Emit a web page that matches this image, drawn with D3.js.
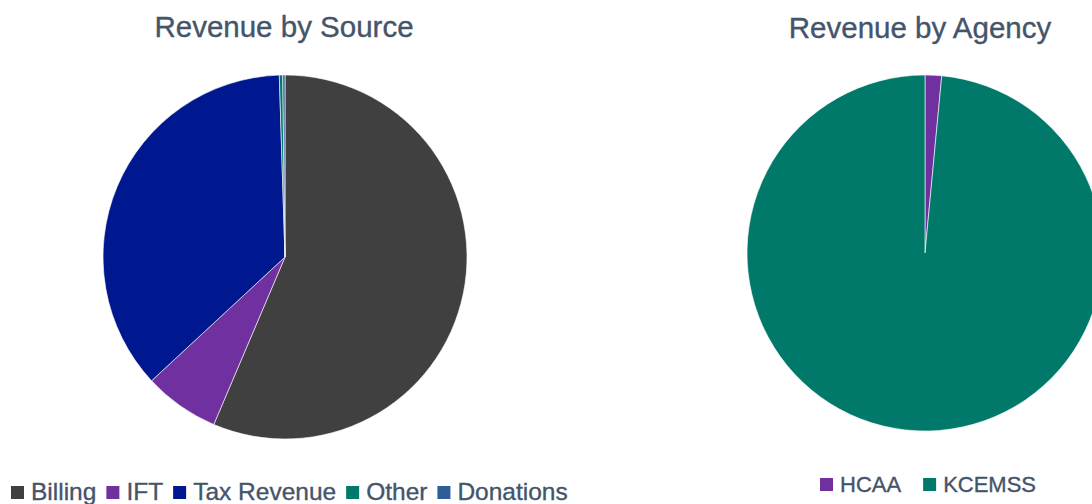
<!DOCTYPE html>
<html>
<head>
<meta charset="utf-8">
<script src="https://cdn.jsdelivr.net/npm/d3@7"></script>
<style>
  html, body { margin: 0; padding: 0; background: #ffffff; overflow: hidden; }
  svg { display: block; }
  text { font-family: "Liberation Sans", Arial, sans-serif; fill: #44546A; stroke: #44546A; stroke-width: 0.35; }
</style>
</head>
<body>
<svg id="chart" width="1092" height="504"></svg>
<script>
// Revenue shares (percent of total)
const sourceCategories = ["Billing", "IFT", "Tax Revenue", "Other", "Donations"];
const sourceValues = [56.4, 6.7, 36.4, 0.3, 0.2];
const sourceColors = ["#404040", "#7030A0", "#00188F", "#00796A", "#2E5E98"];

const agencyCategories = ["HCAA", "KCEMSS"];
const agencyValues = [1.5, 98.5];
const agencyColors = ["#7030A0", "#00796A"];

const svg = d3.select("#chart");

function drawPie(opts) {
  const g = svg.append("g");
  const data = opts.categories.map((c, i) => ({ name: c, value: opts.values[i] }));
  const color = d3.scaleOrdinal().domain(opts.categories).range(opts.colors);
  const pie = d3.pie().value(d => d.value).sort(null);
  const arc = d3.arc().innerRadius(0).outerRadius(opts.r);

  g.append("g")
    .attr("transform", `translate(${opts.cx},${opts.cy})`)
    .selectAll("path")
    .data(pie(data))
    .join("path")
    .attr("d", arc)
    .attr("fill", d => color(d.data.name))
    .attr("stroke", "#ffffff")
    .attr("stroke-width", 0.6);

  g.append("text")
    .attr("x", opts.titleX)
    .attr("y", opts.titleY)
    .attr("text-anchor", "middle")
    .attr("font-size", opts.titleSize)
    .text(opts.title);

  // legend laid out left to right from measured label widths
  const legend = g.append("g");
  let x = opts.legendX;
  data.forEach(d => {
    const item = legend.append("g");
    item.append("rect")
      .attr("x", x)
      .attr("y", opts.legendY - opts.sw - 1)
      .attr("width", opts.sw)
      .attr("height", opts.sw)
      .attr("fill", color(d.name));
    const t = item.append("text")
      .attr("x", x + opts.sw + opts.textGap)
      .attr("y", opts.legendY)
      .attr("font-size", opts.legendSize)
      .text(d.name);
    x += opts.sw + opts.textGap + t.node().getComputedTextLength() + opts.itemGap;
  });
}

drawPie({
  categories: sourceCategories, values: sourceValues, colors: sourceColors,
  cx: 285, cy: 257, r: 182,
  title: "Revenue by Source", titleX: 284, titleY: 37, titleSize: 29.5,
  legendX: 11, legendY: 500, legendSize: 24.5, sw: 13, textGap: 7, itemGap: 10
});

drawPie({
  categories: agencyCategories, values: agencyValues, colors: agencyColors,
  cx: 925, cy: 253, r: 178,
  title: "Revenue by Agency", titleX: 920, titleY: 38, titleSize: 29.5,
  legendX: 820, legendY: 492, legendSize: 22, sw: 13, textGap: 7, itemGap: 22
});
</script>
</body>
</html>
